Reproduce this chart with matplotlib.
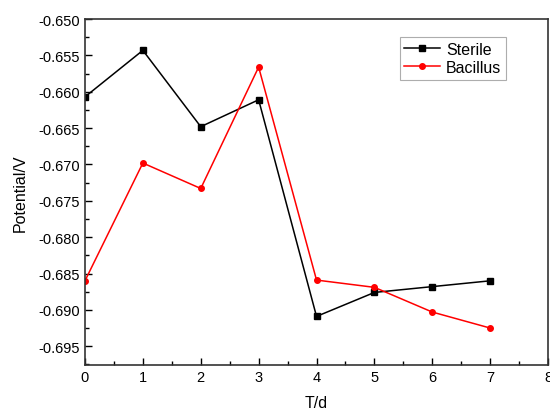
import matplotlib
matplotlib.use("Agg")
import matplotlib.pyplot as plt
from matplotlib.ticker import MultipleLocator, FormatStrFormatter

days = [0, 1, 2, 3, 4, 5, 6, 7]
sterile = [-0.6607, -0.6543, -0.6648, -0.6611, -0.6909, -0.6876, -0.6868, -0.6860]
bacillus = [-0.6860, -0.6698, -0.6733, -0.6566, -0.6859, -0.6869, -0.6903, -0.6925]

plt.rcParams['font.family'] = ['Liberation Sans', 'DejaVu Sans']

fig = plt.figure(figsize=(5.5, 4.1), dpi=100)
ax = fig.add_axes([0.1545, 0.107, 0.842, 0.844])

ax.plot(days, sterile, color='black', marker='s', markersize=4, linewidth=1.1, label='Sterile')
ax.plot(days, bacillus, color='#ff0000', marker='o', markersize=4, linewidth=1.1, label='Bacillus')

ax.set_xlim(0, 8)
ax.set_ylim(-0.6976, -0.650)
ax.xaxis.set_major_locator(MultipleLocator(1))
ax.xaxis.set_minor_locator(MultipleLocator(0.5))
ax.yaxis.set_major_locator(MultipleLocator(0.005))
ax.yaxis.set_minor_locator(MultipleLocator(0.0025))
ax.yaxis.set_major_formatter(FormatStrFormatter('%.3f'))
ax.tick_params(which='both', direction='in', top=False, right=False, labelsize=10.5)
ax.tick_params(which='major', length=5, width=1)
ax.tick_params(which='minor', length=3, width=1)
for s in ax.spines.values():
    s.set_linewidth(1.2)
    s.set_color('#333333')

ax.set_xlabel('T/d', fontsize=11.5, labelpad=8)
ax.set_ylabel('Potential/V', fontsize=11.5, labelpad=8)

leg = ax.legend(loc='upper right', bbox_to_anchor=(0.909, 0.948), borderaxespad=0,
                fontsize=11.5, frameon=True,
                fancybox=False, edgecolor='#999999', handlelength=2.2, borderpad=0.3,
                labelspacing=0.2, handletextpad=0.4)
leg.get_frame().set_linewidth(0.8)

fig.savefig('out.png', dpi=100)
